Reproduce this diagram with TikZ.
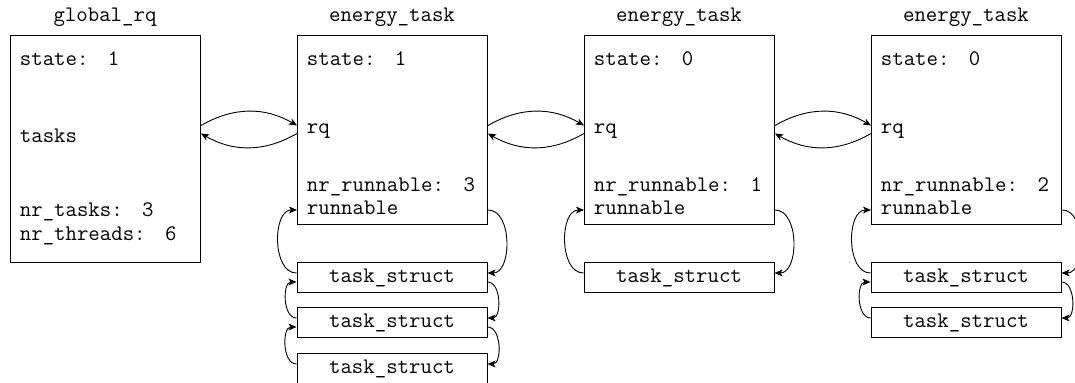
\documentclass[tikz,border=0pt]{standalone}
\usetikzlibrary{arrows.meta}
\newcommand\fgap{\hspace{0.875em}}
\begin{document}
\begin{tikzpicture}[x=0.5pt,y=-0.5pt,
  every node/.style={font=\ttfamily\fontsize{11.1}{12}\selectfont},
  box/.style={draw, line width=0.5pt, anchor=north west, inner sep=0, minimum width=95pt},
  field/.style={anchor=base west, inner sep=0},
  title/.style={anchor=base, inner sep=0},
  tslot/.style={draw, line width=0.5pt, minimum width=95pt, minimum height=15pt, inner sep=0},
  link/.style={-{Stealth[length=4pt,width=3.4pt,inset=1pt]}, line width=0.45pt}]

\useasboundingbox (0,0) rectangle (1075,383);

% row levels used by the connectors
\coordinate (up) at (0,125.5);
\coordinate (dn) at (0,133.5);
\coordinate (run) at (0,210);

% global run queue
\node[box, minimum height=113.5pt] (g) at (10,35) {};
\node[title] (gt) at (105,22) {global\_rq};
\node[field] (gs) at (19.5,66) {state:\fgap 1};
\node[field] (gk) at (19.5,143) {tasks};
\node[field] (gn) at (19.5,217) {nr\_tasks:\fgap 3};
\node[field] (gh) at (19.5,241) {nr\_threads:\fgap 6};

% energy tasks
\node[box, minimum height=94.5pt] (e1) at (297,35) {};
\node[title] (e1t) at (392,22) {energy\_task};
\node[field] (e1s) at (306.5,66) {state:\fgap 1};
\node[field] (e1q) at (306.5,134) {rq};
\node[field] (e1n) at (306.5,192) {nr\_runnable:\fgap 3};
\node[field] (e1r) at (306.5,215) {runnable};

\node[box, minimum height=94.5pt] (e2) at (584,35) {};
\node[title] (e2t) at (679,22) {energy\_task};
\node[field] (e2s) at (593.5,66) {state:\fgap 0};
\node[field] (e2q) at (593.5,134) {rq};
\node[field] (e2n) at (593.5,192) {nr\_runnable:\fgap 1};
\node[field] (e2r) at (593.5,215) {runnable};

\node[box, minimum height=94.5pt] (e3) at (871,35) {};
\node[title] (e3t) at (966,22) {energy\_task};
\node[field] (e3s) at (880.5,66) {state:\fgap 0};
\node[field] (e3q) at (880.5,134) {rq};
\node[field] (e3n) at (880.5,192) {nr\_runnable:\fgap 2};
\node[field] (e3r) at (880.5,215) {runnable};

% runnable task lists
\node[tslot] (t11) at (392,278) {task\_struct};
\node[tslot] (t12) at (392,323) {task\_struct};
\node[tslot] (t13) at (392,369) {task\_struct};
\node[tslot] (t21) at (679,278) {task\_struct};
\node[tslot] (t31) at (966,278) {task\_struct};
\node[tslot] (t32) at (966,323) {task\_struct};

% rq list links
\draw[link] (g.east |- up) to[bend left=30] (e1.west |- up);
\draw[link] (e1.west |- dn) to[bend left=30] (g.east |- dn);
\draw[link] (e1.east |- up) to[bend left=30] (e2.west |- up);
\draw[link] (e2.west |- dn) to[bend left=30] (e1.east |- dn);
\draw[link] (e2.east |- up) to[bend left=30] (e3.west |- up);
\draw[link] (e3.west |- dn) to[bend left=30] (e2.east |- dn);

% forward links (right side)
\draw[link] (e1.east |- run) to[out=0,in=0] ([yshift=2.5pt]t11.east);
\draw[link] ([yshift=-2pt]t11.east) to[out=0,in=0] ([yshift=2.5pt]t12.east);
\draw[link] ([yshift=-2pt]t12.east) to[out=0,in=0] ([yshift=2.5pt]t13.east);
\draw[link] (e2.east |- run) to[out=0,in=0] ([yshift=2.5pt]t21.east);
\draw[link] (e3.east |- run) to[out=0,in=0] ([yshift=2.5pt]t31.east);
\draw[link] ([yshift=-2pt]t31.east) to[out=0,in=0] ([yshift=2.5pt]t32.east);

% backward links (left side)
\draw[link] ([yshift=2.5pt]t11.west) to[out=180,in=180] (e1.west |- run);
\draw[link] ([yshift=2.5pt]t12.west) to[out=180,in=180] ([yshift=-2pt]t11.west);
\draw[link] ([yshift=2.5pt]t13.west) to[out=180,in=180] ([yshift=-2pt]t12.west);
\draw[link] ([yshift=2.5pt]t21.west) to[out=180,in=180] (e2.west |- run);
\draw[link] ([yshift=2.5pt]t31.west) to[out=180,in=180] (e3.west |- run);
\draw[link] ([yshift=2.5pt]t32.west) to[out=180,in=180] ([yshift=-2pt]t31.west);
\end{tikzpicture}
\end{document}
